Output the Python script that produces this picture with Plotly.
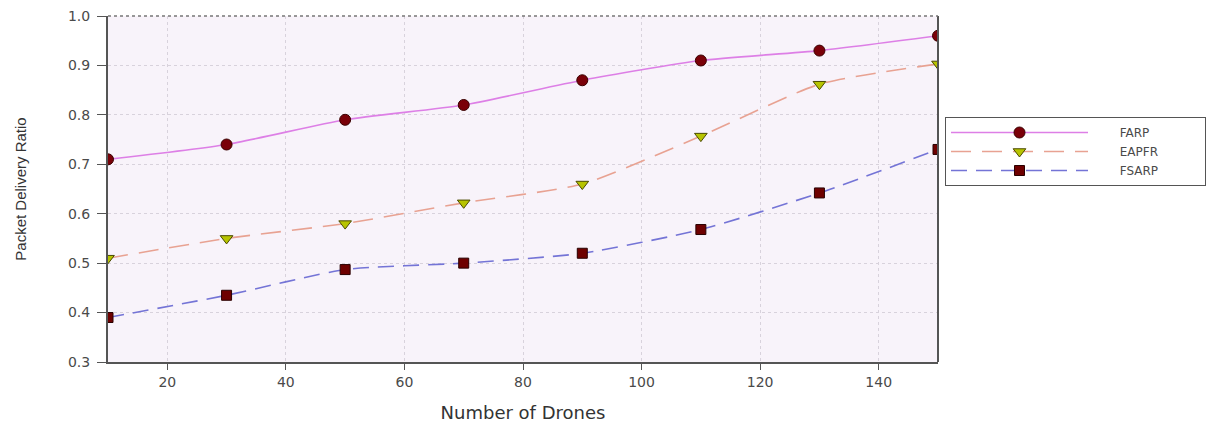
import plotly.graph_objects as go

# Number of drones on the x axis
drones = [10, 30, 50, 70, 90, 110, 130, 150]

# Packet delivery ratio per protocol
farp = [0.71, 0.74, 0.79, 0.82, 0.87, 0.91, 0.93, 0.96]
eapfr = [0.51, 0.55, 0.58, 0.622, 0.66, 0.757, 0.862, 0.903]
fsarp = [0.39, 0.435, 0.487, 0.50, 0.52, 0.568, 0.642, 0.73]

x_ticks = [20, 40, 60, 80, 100, 120, 140]

# legend labels, padded so the text sits right of the long sample lines
pad_l = "\u00a0" * 7
pad_r = "\u00a0" * 11
names = {k: pad_l + k + pad_r for k in ("FARP", "EAPFR", "FSARP")}

fig = go.Figure()

fig.add_trace(go.Scatter(
    x=drones, y=farp, name=names["FARP"], mode="lines+markers",
    line=dict(color="#dd7fe6", width=1.6, shape="spline", smoothing=0.6),
    marker=dict(symbol="circle", size=11, color="#7a0008",
                line=dict(color="#3a0000", width=1)),
))
fig.add_trace(go.Scatter(
    x=drones, y=eapfr, name=names["EAPFR"], mode="lines+markers",
    line=dict(color="#e8a292", width=1.6, dash="20px,11px", shape="spline", smoothing=0.6),
    marker=dict(symbol="triangle-down", size=11, color="#b7c400",
                line=dict(color="#4a4a00", width=1)),
))
fig.add_trace(go.Scatter(
    x=drones, y=fsarp, name=names["FSARP"], mode="lines+markers",
    line=dict(color="#7474d6", width=1.6, dash="16px,9px", shape="spline", smoothing=0.6),
    marker=dict(symbol="square", size=10, color="#6e0000",
                line=dict(color="#2a0000", width=1)),
))

tick_font = dict(family="DejaVu Sans, sans-serif", size=14, color="#4a4a4a")

fig.update_layout(
    width=1210, height=426,
    margin=dict(l=108, r=272, t=16, b=64, autoexpand=False),
    paper_bgcolor="white",
    plot_bgcolor="#f8f3fa",
    font=dict(family="DejaVu Sans, sans-serif", color="#333333"),
    showlegend=True,
    legend=dict(
        x=(945 - 108) / 830, y=(362 - 117) / 346, xanchor="left", yanchor="top",
        bgcolor="white", bordercolor="#555555", borderwidth=1,
        font=dict(family="DejaVu Sans, sans-serif", size=12, color="#4a4a4a"),
        itemwidth=137, tracegroupgap=0,
    ),
    xaxis=dict(
        range=[10, 150], tickvals=x_ticks, automargin=False,
        showgrid=True, gridcolor="#d8d2dc", griddash="dot", gridwidth=1,
        showline=True, linecolor="#555555", linewidth=2, mirror=False,
        ticks="outside", ticklen=6, tickcolor="#555555",
        tickfont=tick_font, zeroline=False,
        title=dict(text="Number of Drones",
                   font=dict(family="DejaVu Sans, sans-serif", size=18, color="#333333"),
                   standoff=18),
    ),
    yaxis=dict(
        range=[0.3, 1.0], dtick=0.1, tick0=0.3, tickformat=".1f", automargin=False,
        showgrid=True, gridcolor="#d8d2dc", griddash="dot", gridwidth=1,
        showline=True, linecolor="#555555", linewidth=2,
        ticks="outside", ticklen=9, tickcolor="#555555", ticklabelstandoff=4,
        tickfont=tick_font, zeroline=False,
        title=dict(text="Packet Delivery Ratio",
                   font=dict(family="Liberation Sans, Arial, sans-serif", size=15, color="#333333"),
                   standoff=38),
    ),
)

# Right-hand frame line and dashed top border
fig.add_shape(type="line", xref="paper", yref="paper", x0=1, x1=1, y0=0, y1=1,
              line=dict(color="#555555", width=2))
fig.add_shape(type="line", xref="paper", yref="paper", x0=0, x1=1, y0=1, y1=1,
              line=dict(color="#777777", width=1.5, dash="dot"))

fig.write_html("out.html")
